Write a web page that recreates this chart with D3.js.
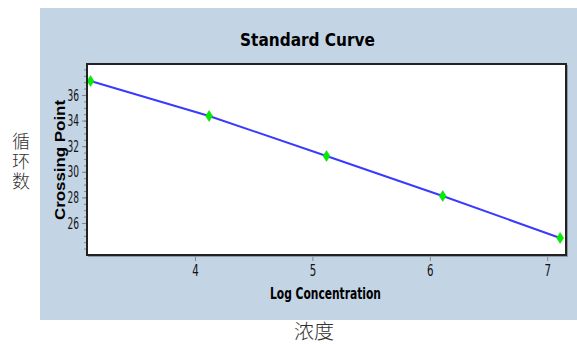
<!DOCTYPE html>
<html><head><meta charset="utf-8">
<script src="https://cdn.jsdelivr.net/npm/d3@7"></script>
<style>body{margin:0;background:#fff;}svg{display:block;}</style>
</head><body>
<script>
const logConc = [3.11, 4.12, 5.12, 6.11, 7.11];
const crossingPoint = [37.09, 34.36, 31.23, 28.11, 24.83];
const xTicks = [4, 5, 6, 7];
const yTicks = [26, 28, 30, 32, 34, 36];
const yMinorTicks = d3.range(24, 38.5, 0.5);

const W = 577, H = 344;
const svg = d3.select("body").append("svg").attr("width", W).attr("height", H);
svg.append("rect").attr("x", 40).attr("y", 8).attr("width", 537).attr("height", 312).attr("fill", "#c3d4e5");

const L = 87, R = 566, T = 64, B = 255;
const x = d3.scaleLinear().domain([3.08, 7.16]).range([L, R]);
const y = d3.scaleLinear().domain([23.5, 38.42]).range([B, T]);

svg.append("rect").attr("x", L).attr("y", T).attr("width", R - L).attr("height", B - T).attr("fill", "#fff");

const narrow = "'Liberation Sans Narrow','Arial Narrow','DejaVu Sans Condensed',sans-serif";

// x axis
const xa = svg.append("g").attr("transform", `translate(0,${B})`)
  .call(d3.axisBottom(x).tickValues(xTicks).tickSize(6).tickPadding(4).tickFormat(d3.format("d")));
xa.select(".domain").remove();
xa.selectAll("line").attr("stroke", "#888");
xa.selectAll("text").attr("font-family", narrow).attr("font-size", 16).attr("fill", "#111")
  .attr("textLength", 6.5).attr("lengthAdjust", "spacingAndGlyphs");

// y axis minor
const ym = svg.append("g").attr("transform", `translate(${L},0)`)
  .call(d3.axisLeft(y).tickValues(yMinorTicks.filter(v => v > 23.6)).tickSize(3).tickFormat(""));
ym.select(".domain").remove();
ym.selectAll("line").attr("stroke", "#888");
const ya = svg.append("g").attr("transform", `translate(${L},0)`)
  .call(d3.axisLeft(y).tickValues(yTicks).tickSize(5).tickPadding(3).tickFormat(d3.format("d")));
ya.select(".domain").remove();
ya.selectAll("line").attr("stroke", "#888");
ya.selectAll("text").attr("font-family", narrow).attr("font-size", 16).attr("fill", "#111")
  .attr("textLength", 11.5).attr("lengthAdjust", "spacingAndGlyphs");

// line
const pts = logConc.map((v, i) => [v, crossingPoint[i]]);
svg.append("path").datum(pts)
  .attr("d", d3.line().x(d => x(d[0])).y(d => y(d[1])))
  .attr("fill", "none").attr("stroke", "#3a3aff").attr("stroke-width", 2);

// markers
svg.selectAll(".pt").data(pts).enter().append("path")
  .attr("transform", d => `translate(${x(d[0])},${y(d[1])})`)
  .attr("d", "M0,-5.5L3.5,0L0,5.5L-3.5,0Z")
  .attr("fill", "#00ee00").attr("stroke", "#22cc22").attr("stroke-width", 0.5);

// border
svg.append("rect").attr("x", L).attr("y", T).attr("width", R - L).attr("height", B - T)
  .attr("fill", "none").attr("stroke", "#222").attr("stroke-width", 2);
svg.append("line").attr("x1", R + 1.5).attr("x2", R + 1.5).attr("y1", T + 1).attr("y2", B + 2)
  .attr("stroke", "#8a9aa8").attr("stroke-width", 1);
svg.append("line").attr("x1", L + 1).attr("x2", R + 2).attr("y1", B + 1.5).attr("y2", B + 1.5)
  .attr("stroke", "#8a9aa8").attr("stroke-width", 1);

// title
svg.append("text").attr("x", 307.5).attr("y", 46).attr("text-anchor", "middle")
  .attr("font-family", "'DejaVu Sans Condensed','Liberation Sans',sans-serif").attr("font-weight", "bold")
  .attr("font-size", 17).attr("textLength", 135).attr("lengthAdjust", "spacingAndGlyphs")
  .attr("fill", "#000").text("Standard Curve");

// x label
svg.append("text").attr("x", 325.5).attr("y", 299).attr("text-anchor", "middle")
  .attr("font-family", narrow).attr("font-weight", "bold").attr("font-size", 15)
  .attr("textLength", 111).attr("lengthAdjust", "spacingAndGlyphs")
  .attr("fill", "#000").text("Log Concentration");

// y label
svg.append("text").attr("transform", "translate(65,160) rotate(-90)").attr("text-anchor", "middle")
  .attr("font-family", "'Liberation Sans',Arial,sans-serif").attr("font-weight", "bold").attr("font-size", 14)
  .attr("textLength", 120).attr("lengthAdjust", "spacingAndGlyphs")
  .attr("fill", "#000").text("Crossing Point");

// Chinese labels
const cjk = "'Noto Sans CJK SC',sans-serif";
svg.append("text").attr("x", 21).attr("y", 132)
  .style("writing-mode", "vertical-rl").style("letter-spacing", "2px")
  .attr("font-family", cjk).attr("font-weight", 300).attr("font-size", 18).attr("fill", "#333")
  .text("循环数");
svg.append("text").attr("x", 314).attr("y", 339).attr("text-anchor", "middle")
  .attr("font-family", cjk).attr("font-weight", 300).attr("font-size", 20).attr("fill", "#333").text("浓度");
</script>
</body></html>
